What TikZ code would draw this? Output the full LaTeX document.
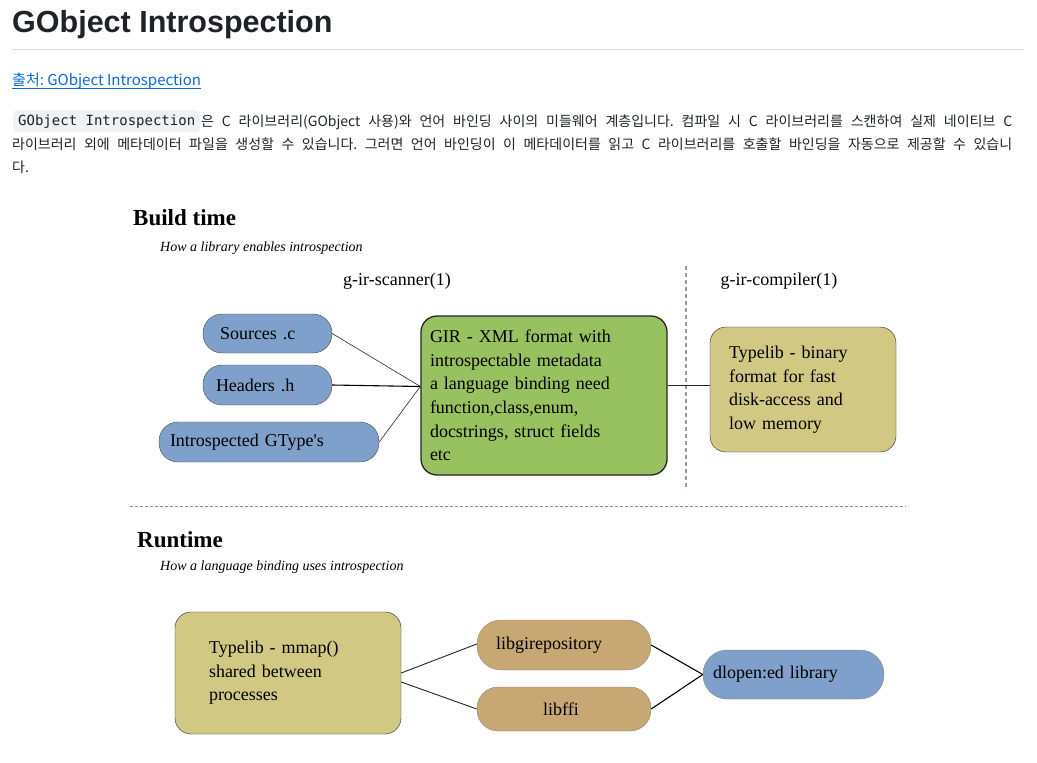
\documentclass[tikz,border=0pt]{standalone}
\usepackage{fontspec}
\setmainfont{Liberation Serif}
\newfontfamily\cjk{Noto Sans CJK KR}
\newfontfamily\headfont{Liberation Sans}
\newfontfamily\codefont{DejaVu Sans Mono}
\usetikzlibrary{positioning,calc}
\definecolor{nodeblue}{RGB}{126,160,203}
\definecolor{girgreen}{RGB}{152,193,96}
\definecolor{typekhaki}{RGB}{209,200,131}
\definecolor{libtan}{RGB}{199,167,115}
\definecolor{linkblue}{RGB}{9,105,218}
\definecolor{codegray}{RGB}{239,241,243}
\definecolor{rulegray}{RGB}{216,222,228}
\definecolor{bodytext}{RGB}{31,35,40}
\newcommand{\fsz}[2]{\fontsize{#1}{#2}\selectfont}
\frenchspacing

\begin{document}
\begin{tikzpicture}[
  x=1pt, y=-1pt, font=\fsz{18}{23.6},
  txt/.style={anchor=base west, inner sep=0pt},
  body/.style={txt, text=bodytext, font=\cjk\fsz{14}{18}},
  pill/.style={draw=black!70, rounded corners=19pt, inner ysep=0pt, align=left},
  blob/.style={draw=black!85, rounded corners=16pt, align=left, inner ysep=0pt},
  ln/.style={black!85, line width=0.6pt},
  lnb/.style={black, line width=1.1pt}]
  \useasboundingbox[fill=white] (0,0) rectangle (1037,763);
  % page header
  \node[txt, text=bodytext, font=\headfont\bfseries\fsz{30.5}{36}] (title) at (12,32) {GObject Introspection};
  \draw[rulegray, line width=1pt] (12,49) -- (1024,49);
  \node[txt, text=linkblue, font=\cjk\fsz{15}{18}] (src) at (12,85) {출처: GObject Introspection};
  \draw[linkblue, line width=0.8pt] ([yshift=-3pt]src.base west) -- ([yshift=-3pt]src.base east);
  \node[fill=codegray, rounded corners=4pt, anchor=base west, inner xsep=5pt, inner ysep=4pt,
        text=bodytext, font=\codefont\fsz{14}{16}] (code) at (13,125) {GObject Introspection};
  \node[body] (p1) at (201,126) {\makebox[811pt][s]{은 C 라이브러리(GObject 사용)와 언어 바인딩 사이의 미들웨어 계층입니다. 컴파일 시 C 라이브러리를 스캔하여 실제 네이티브 C}};
  \node[body] (p2) at (12,149) {\makebox[1000pt][s]{라이브러리 외에 메타데이터 파일을 생성할 수 있습니다. 그러면 언어 바인딩이 이 메타데이터를 읽고 C 라이브러리를 호출할 바인딩을 자동으로 제공할 수 있습니}};
  \node[body] (p3) at (12,172) {다.};

  % build time
  \node[txt, font=\bfseries\fsz{23}{26}] (build) at (133,225) {Build time};
  \node[txt, font=\itshape\fsz{14}{16}] (buildsub) at (160,251) {How a library enables introspection};
  \node[anchor=base, inner sep=0pt] (scanner) at (397,285) {g-ir-scanner(1)};
  \node[anchor=base, inner sep=0pt] (compiler) at (779,285) {g-ir-compiler(1)};
  \draw[gray!80, dashed, line width=1.2pt, dash pattern=on 4pt off 3pt] (686,266) -- (686,490);

  \node[pill, fill=nodeblue, text width=95pt, inner xsep=17pt, minimum height=39pt] (sources) at (267.5,333.5) {Sources .c};
  \node[pill, fill=nodeblue, text width=103pt, inner xsep=13pt, minimum height=40pt] (headers) at (267.5,385) {Headers .h};
  \node[pill, fill=nodeblue, text width=198pt, inner xsep=11pt, minimum height=40pt] (gtype) at (269,442) {Introspected GType\textquotesingle s};
  \node[blob, fill=girgreen, line width=1.3pt, text width=228pt, inner xsep=9pt, minimum height=159pt] (gir) at (544,395.5)
       {GIR - XML format with\\introspectable metadata\\a language binding need\\function,class,enum,\\docstrings, struct fields\\etc};
  \node[blob, fill=typekhaki, text width=148pt, inner xsep=19pt, minimum height=125pt] (typelib) at (803,389.5)
       {Typelib - binary\\format for fast\\disk-access and\\low memory};

  \draw[ln] (sources.east) -- ([yshift=9pt]gir.west);
  \draw[lnb] (headers.east) -- ([yshift=9pt]gir.west);
  \draw[ln] (gtype.east) -- ([yshift=9pt]gir.west);
  \draw[ln, line width=0.8pt] ([yshift=10pt]gir.east) -- ([yshift=10pt]gir.east -| typelib.west);

  \draw[gray!90, dashed, line width=0.8pt, dash pattern=on 3pt off 2pt] (130,506) -- (906,506);

  % runtime
  \node[txt, font=\bfseries\fsz{23}{26}] (runtime) at (137,547) {Runtime};
  \node[txt, font=\itshape\fsz{14}{16}] (runsub) at (160,570) {How a language binding uses introspection};
  \node[blob, fill=typekhaki, text width=158pt, inner xsep=34pt, minimum height=122pt] (mmap) at (288,673)
       {Typelib - mmap()\\shared between\\processes};
  \node[pill, fill=libtan, draw=black!45, text width=136pt, inner xsep=19pt, minimum height=50pt, rounded corners=24pt] (libgir) at (564,645) {libgirepository};
  \node[pill, fill=libtan, draw=black!45, minimum width=174pt, minimum height=44pt, rounded corners=21pt, align=center] (libffi) at (564,709) {\hspace*{-6pt}libffi};
  \node[pill, fill=nodeblue, draw=black!45, text width=161pt, inner xsep=10pt, minimum height=49pt, rounded corners=24pt] (dlopen) at (793.5,674.5) {dlopen:ed library};

  \draw[ln, line width=0.9pt] (mmap.east) -- ([yshift=1pt]libgir.west);
  \draw[ln, line width=0.9pt] ([yshift=-9pt]mmap.east) -- (libffi.west);
  \foreach \i in {libgir, libffi} \draw[lnb] (\i.east) -- (dlopen.west);
\end{tikzpicture}
\end{document}
